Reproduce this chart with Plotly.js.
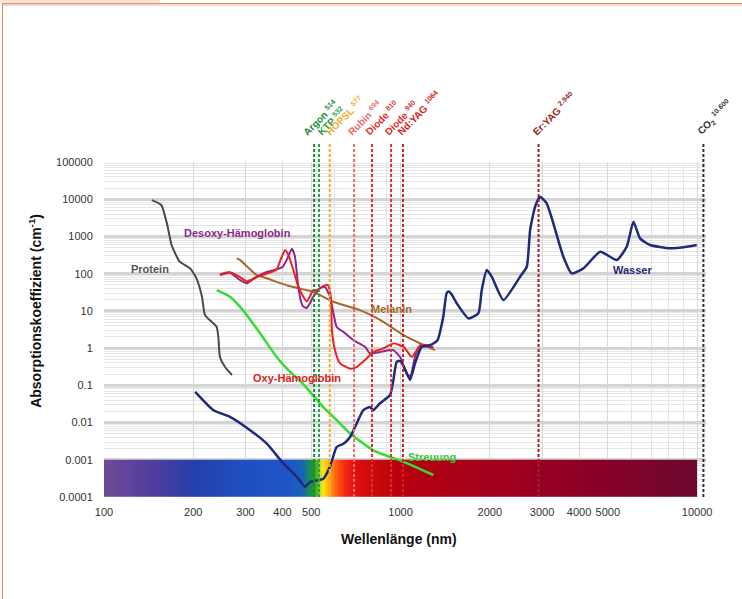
<!DOCTYPE html>
<html><head><meta charset="utf-8">
<script src="https://cdn.plot.ly/plotly-3.0.1.min.js"></script>
<style>
html,body{margin:0;padding:0;background:#fff;overflow:hidden;}
#chart{width:742px;height:599px;position:absolute;left:0;top:0;}
#frameTab{position:absolute;left:0;top:0;width:160px;height:3px;background:#fbe6dc;}
#frameT{position:absolute;left:2px;top:3px;width:740px;height:1px;background:#ec8a64;}
#frameT2{position:absolute;left:3px;top:4px;width:739px;height:2px;background:#f9d8ca;}
#frameL{position:absolute;left:2px;top:3px;width:1px;height:596px;background:#ec8a64;}
</style></head><body>
<div id="chart"></div>
<div id="frameTab"></div><div id="frameT"></div><div id="frameT2"></div><div id="frameL"></div>
<script>
// ---- Data (wavelength in nm, absorption coefficient in 1/cm) ----
const proteinWl  = [145, 156, 163, 169, 180, 195, 205, 214, 219, 234, 240, 243, 246, 256, 270];
const proteinVal = [9500, 7000, 2250, 590, 210, 140, 75, 24, 7.7, 4.6, 3.7, 2.0, 0.58, 0.31, 0.19];

const desoxyWl  = [246, 266, 288, 303, 327, 354, 382, 400, 415, 430, 440, 450, 460, 470, 483, 508, 535, 556, 578, 595, 609, 642, 693, 759, 789, 853, 946, 1000, 1050, 1080, 1120, 1165, 1230, 1290];
const desoxyVal = [92, 106, 67, 55, 83, 112, 130, 150, 250, 470, 300, 60, 20, 13, 12, 24, 40, 44, 24, 8, 3.7, 2.7, 1.64, 1.08, 0.72, 0.79, 0.88, 0.55, 0.2, 0.18, 0.6, 1.1, 1.1, 1.05];

const oxyWl  = [246, 266, 288, 303, 327, 354, 382, 395, 408, 420, 435, 450, 465, 483, 508, 521, 542, 560, 570, 582, 587, 601, 625, 676, 711, 769, 809, 875, 946, 1024, 1092, 1165, 1225, 1290];
const oxyVal = [95, 110, 80, 62, 80, 100, 130, 250, 430, 300, 125, 50, 28, 18, 36, 36, 44, 50, 49, 24, 3.0, 0.88, 0.39, 0.28, 0.31, 0.53, 0.79, 0.98, 1.34, 1.08, 0.58, 1.2, 1.2, 1.08];

const melaninWl  = [280, 288, 327, 354, 413, 483, 508, 593, 730, 853, 1049, 1306];
const melaninVal = [258, 232, 92, 75, 49, 36, 32.6, 17.6, 10.5, 5.7, 2.0, 0.88];

const streuungWl  = [240, 266, 294, 336, 382, 420, 464, 549, 609, 676, 809, 1024, 1290];
const streuungVal = [36, 24, 10.5, 2.5, 0.58, 0.25, 0.12, 0.026, 0.0116, 0.0051, 0.0018, 0.00088, 0.00039];

const wasserWl  = [203, 234, 266, 311, 354, 403, 447, 476, 496, 522, 549, 578, 609, 642, 676, 703, 749, 789, 809, 853, 922, 946, 971, 1000, 1040, 1077, 1120, 1179, 1255, 1330, 1393, 1430, 1455, 1490, 1548, 1694, 1830, 1878, 1953, 2030, 2222, 2530, 2665, 2735, 2843, 2953, 3110, 3275, 3540, 3777, 4137, 4713, 5360, 5790, 6100, 6420, 6940, 8100, 9230, 9970];
const wasserVal = [0.067, 0.0215, 0.0143, 0.00625, 0.0027, 0.00079, 0.00035, 0.000187, 0.000255, 0.00028, 0.00031, 0.00065, 0.0022, 0.0027, 0.0041, 0.0077, 0.0215, 0.026, 0.0215, 0.033, 0.055, 0.14, 0.43, 0.45, 0.25, 0.14, 0.4, 1.08, 1.2, 1.6, 6.9, 30, 33, 27, 15.8, 6.3, 8.6, 36, 125, 83, 19.5, 83, 153, 1486, 6300, 11660, 7760, 2250, 285, 102, 139, 388, 232, 528, 2480, 889, 588, 479, 528, 588];

// Laser lines
const laserNames  = ['Argon', 'KTP', 'HOPSL', 'Rubin', 'Diode', 'Diode', 'Nd:YAG', 'Er:YAG', 'CO<sub>2</sub>'];
const laserNums   = ['514', '532', '577', '694', '810', '940', '1064', '2.940', '10.600'];
const laserWl     = [511, 531, 577, 697, 801, 929, 1019, 2920, 10500];
const laserColors = ['#1b8a3c', '#20a544', '#f2ac2a', '#ec6e6e', '#de3030', '#de3030', '#d42222', '#962626', '#333333'];
const laserShift  = [-17, -7, -10, -12, -12, -12, -11, -12, -12];

// Visible spectrum band
const specWl    = [100, 150, 200, 300, 420, 470, 490, 510, 530, 545, 560, 580, 610, 650, 700, 800, 1000, 2000, 3000, 5000, 10000];
const specColor = ['#6d4a96','#4e3d9e','#2440a8','#1f4fc2','#1f55c8','#1566b0','#1a8a5a','#1e9a2a','#7cc21c','#f2ee22','#ffcc10','#ff9a10','#ff5a10','#f22810','#e01010','#cc0a0a','#b8000f','#a3001c','#980022','#870028','#6c0a30'];
const specBand  = [0.0001, 0.001];

// Axis ticks
const xTicks = [100, 200, 300, 400, 500, 1000, 2000, 3000, 4000, 5000, 10000];
const yTicks = [0.0001, 0.001, 0.01, 0.1, 1, 10, 100, 1000, 10000, 100000];
const yTickText = ['0.0001', '0.001', '0.01', '0.1', '1', '10', '100', '1000', '10000', '100000'];

// ---- Build ----
const N = 400;
const edges = [], zrow = [];
for (let i = 0; i <= N; i++) edges.push(Math.pow(10, 2 + 2 * i / N));
for (let i = 0; i < N; i++) zrow.push(2 + 2 * (i + 0.5) / N);
const colorscale = specWl.map((w, i) => [(Math.log10(w) - 2) / 2, specColor[i]]);

const spectrum = {
  type: 'heatmap', x: edges, y: specBand, z: [zrow],
  colorscale: colorscale, zmin: 2, zmax: 4, showscale: false, hoverinfo: 'skip'
};

function curve(x, y, color, w) {
  return { type: 'scatter', mode: 'lines', x: x, y: y, hoverinfo: 'skip',
    line: { color: color, width: w, shape: 'spline', smoothing: 0.5 } };
}

const data = [
  spectrum,
  curve(proteinWl, proteinVal, '#4a4a4a', 2),
  curve(streuungWl, streuungVal, '#33dd33', 2.5),
  curve(melaninWl, melaninVal, '#a5692f', 2),
  curve(desoxyWl, desoxyVal, '#8e268e', 2),
  curve(oxyWl, oxyVal, '#e8231f', 2),
  curve(wasserWl, wasserVal, '#1f2a7a', 2.5)
];

const minorX = [], minorY = [];
for (let k = 2; k <= 3; k++) for (let d = 2; d <= 9; d++) {
  const v = d * Math.pow(10, k);
  if (xTicks.indexOf(v) < 0) minorX.push(v);
}
for (let k = -4; k <= 4; k++) for (let d = 2; d <= 9; d++) minorY.push(d * Math.pow(10, k));

const shapes = laserWl.map((w, i) => ({
  type: 'line', xref: 'x', yref: 'paper', x0: w, x1: w, y0: 0, y1: 1.055,
  layer: 'above', line: { color: laserColors[i], width: 2, dash: '3px,2px' }
}));

const annotations = laserWl.map((w, i) => ({
  xref: 'x', yref: 'paper', x: Math.log10(w), y: 1.065,
  xanchor: 'left', yanchor: 'bottom', xshift: laserShift[i], textangle: -45, showarrow: false,
  text: laserNames[i] + ' <sup>' + laserNums[i] + '</sup>',
  font: { family: 'Liberation Sans, Arial, sans-serif', size: 10, color: laserColors[i], weight: 'bold' }
}));

function lab(text, xl, yl, color) {
  return { xref: 'x', yref: 'y', x: xl, y: yl, text: text, showarrow: false,
    xanchor: 'center', yanchor: 'middle',
    font: { family: 'Liberation Sans, Arial, sans-serif', size: 11, color: color, weight: 'bold' } };
}
annotations.push(lab('Protein', 2.155, 2.124, '#555555'));
annotations.push(lab('Desoxy-Hämoglobin', 2.449, 3.09, '#8a2a8a'));
annotations.push(lab('Oxy-Hämoglobin', 2.651, -0.806, '#e02020'));
annotations.push(lab('Melanin', 2.971, 1.048, '#a86a2a'));
annotations.push(lab('Streuung', 3.106, -2.93, '#33cc33'));
annotations.push(lab('Wasser', 3.781, 2.097, '#1f2a70'));

annotations.push({ xref: 'paper', yref: 'paper', x: 0.49, y: -0.125, showarrow: false,
  xanchor: 'center', yanchor: 'middle', text: 'Wellenlänge (nm)',
  font: { family: 'Liberation Sans, Arial, sans-serif', size: 14, color: '#111', weight: 'bold' } });
annotations.push({ xref: 'paper', yref: 'paper', x: -0.115, y: 0.555, showarrow: false,
  xanchor: 'center', yanchor: 'middle', textangle: -90, text: 'Absorptionskoeffizient (cm<sup>-1</sup>)',
  font: { family: 'Liberation Sans, Arial, sans-serif', size: 14, color: '#111', weight: 'bold' } });

const layout = {
  width: 742, height: 599,
  margin: { l: 104, r: 36, t: 162, b: 102, pad: 0 },
  paper_bgcolor: 'rgba(0,0,0,0)', plot_bgcolor: '#ffffff',
  showlegend: false,
  font: { family: 'Liberation Sans, Arial, sans-serif', size: 11, color: '#333' },
  xaxis: {
    type: 'log', range: [2, 4.03], tickmode: 'array', tickvals: xTicks, ticktext: xTicks.map(String),
    ticks: 'outside', ticklen: 5, tickcolor: 'rgba(0,0,0,0)',
    showgrid: true, gridcolor: '#d8d8d8', gridwidth: 1, zeroline: false, showline: false,
    minor: { tickmode: 'array', tickvals: minorX, showgrid: true, gridcolor: '#e4e4e4', gridwidth: 1, ticks: '' },
    tickfont: { size: 11, color: '#333' }
  },
  yaxis: {
    type: 'log', range: [-4, 5], tickmode: 'array', tickvals: yTicks, ticktext: yTickText,
    ticks: 'outside', ticklen: 8, tickcolor: 'rgba(0,0,0,0)',
    showgrid: true, gridcolor: '#d4d4d4', gridwidth: 3, zeroline: false, showline: false,
    minor: { tickmode: 'array', tickvals: minorY, showgrid: true, gridcolor: '#e6e6e6', gridwidth: 1, ticks: '' },
    tickfont: { size: 11, color: '#333' }
  },
  shapes: shapes,
  annotations: annotations
};

Plotly.newPlot('chart', data, layout, { staticPlot: true, displayModeBar: false });
</script>
</body></html>
